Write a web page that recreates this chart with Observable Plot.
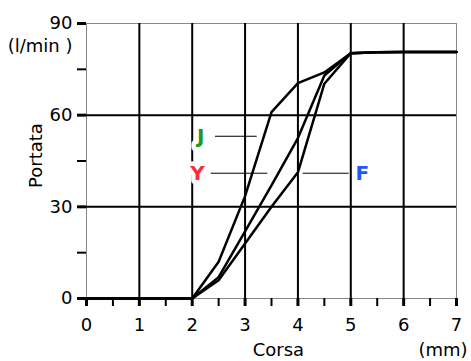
<!DOCTYPE html>
<html><head><meta charset="utf-8">
<script src="https://cdn.jsdelivr.net/npm/d3@7"></script>
<script src="https://cdn.jsdelivr.net/npm/@observablehq/plot@0.6"></script>
<style>body{margin:0;background:#fff}</style>
</head><body><div id="chart"></div>
<script>
const corsa = [0,0.5,1,1.5,2,2.5,3,3.5,4,4.5,5,5.5,6,6.5,7];
const serieJ = [0,0,0,0,0,12,33.5,61,70.5,74,80.3,80.6,80.7,80.7,80.7];
const serieY = [0,0,0,0,0,7,22,37,52.5,73,80.3,80.6,80.7,80.7,80.7];
const serieF = [0,0,0,0,0,6,18,30,41.3,70.3,80.3,80.6,80.7,80.7,80.7];
const xMajor = [0,1,2,3,4,5,6,7];
const xMinor = [0.5,1.5,2.5,3.5,4.5,5.5,6.5];
const xGrid = [1,2,3,4,5,6];
const yMajor = [0,30,60,90];
const yMinor = [15,45,75];
const yGrid = [30,60];
const labelNames = ["J","Y","F"];
const labelColors = ["#1e9a1e","#ff2a3a","#2255ff"];
const labelX = [2.16,2.1,5.22];
const labelY = [53,41,41];
const leaderX1 = [2.43,2.35,4.09];
const leaderX2 = [3.22,3.42,4.96];
const leaderY = [53.1,41,41];

const data = [];
[["J",serieJ],["Y",serieY],["F",serieF]].forEach(([s,vals]) =>
  vals.forEach((v,i) => data.push({series:s, x:corsa[i], y:v})));
const labels = labelNames.map((t,i)=>({t, x:labelX[i], y:labelY[i], c:labelColors[i]}));
const leaders = labelNames.map((t,i)=>({x1:leaderX1[i], x2:leaderX2[i], y:leaderY[i]}));

const font = "'DejaVu Sans', sans-serif";
const chart = Plot.plot({
  width:471, height:361,
  marginLeft:86, marginRight:15, marginTop:23, marginBottom:63,
  x:{domain:[0,7]}, y:{domain:[0,90]},
  style:{fontFamily:font, fontSize:"18px", background:"white", color:"black"},
  marks:[
    Plot.frame({stroke:"#888", strokeWidth:1}),
    Plot.gridX(xGrid, {stroke:"black", strokeOpacity:1, strokeWidth:2}),
    Plot.gridY(yGrid, {stroke:"black", strokeOpacity:1, strokeWidth:2}),
    Plot.axisX(xMajor, {tickSize:8, strokeWidth:3, tickPadding:12, label:null, fontSize:18}),
    Plot.axisX(xMinor, {tickSize:8, strokeWidth:2, text:null, label:null}),
    Plot.axisY(yMajor, {tickSize:9, strokeWidth:3, tickPadding:5, label:null, fontSize:18}),
    Plot.axisY(yMinor, {tickSize:9, strokeWidth:2, text:null, label:null}),
    Plot.line(data, {x:"x", y:"y", z:"series", stroke:"black", strokeWidth:2.5}),
    Plot.link(leaders, {x1:"x1", x2:"x2", y1:"y", y2:"y", stroke:"black", strokeWidth:1}),
    Plot.text(labels, {x:"x", y:"y", text:"t", fill:"c", stroke:"white", strokeWidth:9, paintOrder:"stroke", fontWeight:"bold", fontSize:20}),
    Plot.text(["(l/min )"], {x:0, y:90, text:d=>d, dx:-14, dy:23, textAnchor:"end", fontSize:18}),
    Plot.text(["Portata"], {x:0, y:46.8, text:d=>d, dx:-50, rotate:-90, fontSize:18}),
    Plot.text(["Corsa"], {x:3.63, y:0, text:d=>d, dy:52, fontSize:18}),
    Plot.text(["(mm)"], {x:7, y:0, text:d=>d, dx:11, dy:52, textAnchor:"end", fontSize:18})
  ]
});
document.getElementById("chart").append(chart);
</script></body></html>
